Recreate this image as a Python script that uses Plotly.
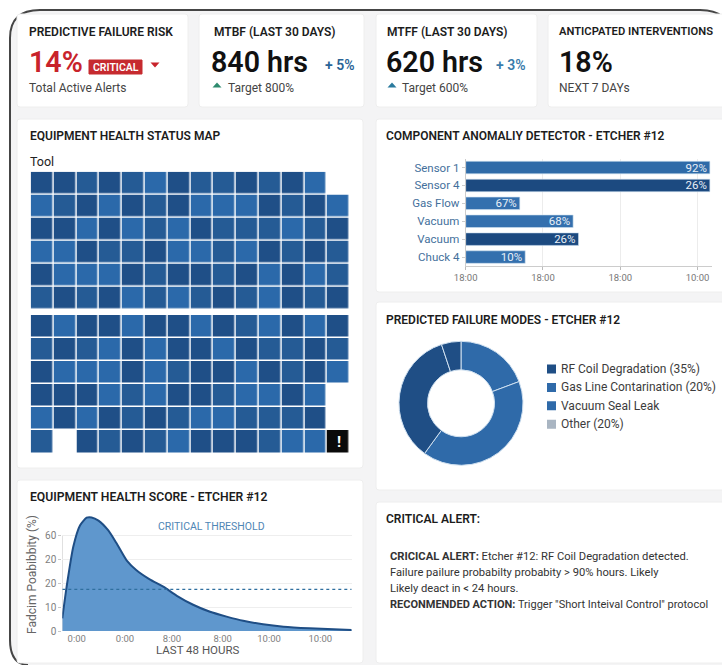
import plotly.graph_objects as go

W, H = 722, 665
N = None

# ---------- data ----------
heat_top = [
    [0, 0, 1, 0, 1, 2, 0, 1, 1, 0, 1, 0, 2, N],
    [2, 1, 0, 2, 0, 1, 0, 2, 2, 2, 0, 1, 0, 2],
    [0, 0, 2, 0, 2, 1, 2, 0, 1, 1, 1, 2, 1, 0],
    [2, 2, 0, 1, 1, 0, 2, 2, 1, 2, 0, 1, 0, 1],
    [0, 2, 2, 2, 0, 1, 0, 0, 1, 0, 2, 0, 2, 1],
    [1, 0, 1, 0, 2, 1, 2, 1, 0, 1, 2, 0, 1, 0],
]
heat_bottom = [
    [0, 2, 0, 0, 2, 0, 0, 2, 0, 1, 2, 0, 2, 0],
    [1, 0, 1, 2, 0, 2, 0, 0, 2, 0, 1, 1, 0, 1],
    [0, 2, 2, 2, 0, 2, 1, 0, 0, 2, 0, 1, 0, 2],
    [0, 0, 0, 2, 1, 2, 0, 0, 1, 2, 2, 0, 2, N],
    [2, 0, 2, 0, 1, 0, 1, 2, 2, 1, 1, 1, 0, N],
    [1, N, 0, 1, 0, 1, 2, 0, 0, 0, 1, 2, 2, 3],
]
bar_names = ["Sensor 1", "Sensor 4", "Gas Flow", "Vacuum", "Vacuum", "Chuck 4"]
bar_lengths = [3.16, 3.16, 0.70, 1.39, 1.46, 0.77]
bar_labels = ["92%", "26%", "67%", "68%", "26%", "10%"]
bar_tier = ["#2f6ba8", "#1c4a80", "#3470ae", "#3470ae", "#1c4a80", "#3470ae"]
bar_ticks = [0, 1, 2, 3]
bar_ticktext = ["18:00", "18:00", "18:00", "10:00"]

donut_labels = ["Gas Line Contarination", "Vacuum Seal Leak", "RF Coil Degradation", "Other"]
donut_values = [19.3, 40.7, 34.9, 5.1]
donut_colors = ["#2f6aa9", "#2f6aa9", "#1f4e85", "#1f4e85"]
legend_items = ["RF Coil Degradation (35%)", "Gas Line Contarination (20%)", "Vacuum Seal Leak", "Other (20%)"]
legend_colors = ["#1f4e85", "#2f6aa9", "#2f6aa9", "#a9b5c2"]

hours = [0, 0.72, 1.82, 2.93, 4.03, 4.86, 6, 7.6, 9, 10.7, 12.3, 14.5, 16.75, 19, 21.7, 24.5, 27.25, 30, 33.3, 36.7, 41, 48]
prob = [7.9, 27.7, 52.7, 66, 70.8, 71, 69, 63, 54.8, 44, 38, 32.3, 27.7, 22, 16.4, 12, 9, 6.4, 4.2, 2.7, 1.7, 0.6]
threshold = 26
area_xticks = [2.4, 10.4, 18.2, 26.6, 34.3, 42.8]
area_xtext = ["0:00", "0:00", "8:00", "8:00", "10:00", "10:00"]
area_yticks = [0, 15, 30, 45, 60]
area_ytext = ["0", "10", "20", "20", "60"]

# ---------- pixel helpers ----------
def X(px): return px / W
def Y(py): return 1 - py / H
def dx(a, b): return [X(a), X(b)]
def dy(top, bottom): return [Y(bottom), Y(top)]

FONT = "Roboto"
shapes, notes = [], []

def pth(d, fill=None, line=None, lw=0, layer="below"):
    shapes.append(dict(type="path", xref="paper", yref="paper", path=d, fillcolor=fill,
                       line=dict(color=line or "rgba(0,0,0,0)", width=lw), layer=layer))

def rrect(x0, y0, x1, y1, r=3, fill="#ffffff", line="#eeeeee", lw=1):
    a, b, c, d = X(x0), Y(y0), X(x1), Y(y1)
    rx, ry = r / W, r / H
    p = (f"M{a+rx},{b} L{c-rx},{b} Q{c},{b} {c},{b-ry} L{c},{d+ry} Q{c},{d} {c-rx},{d} "
         f"L{a+rx},{d} Q{a},{d} {a},{d+ry} L{a},{b-ry} Q{a},{b} {a+rx},{b} Z")
    pth(p, fill, line, lw)

def tri(cx, cy, w, h, color, down=False):
    s = 1 if down else -1
    pth(f"M{X(cx-w/2)},{Y(cy-s*h/2)} L{X(cx+w/2)},{Y(cy-s*h/2)} L{X(cx)},{Y(cy+s*h/2)} Z", color)

def txt(x, y, s, size=12, color="#222222", weight=400, anchor="left", angle=0):
    notes.append(dict(xref="paper", yref="paper", x=X(x), y=Y(y), text=s, showarrow=False,
                      xanchor=anchor, yanchor="middle", textangle=angle, align="left",
                      xshift=-2 if anchor == "left" else 0,
                      font=dict(family=FONT, size=size, color=color, weight=weight)))

# background + frame
shapes.append(dict(type="rect", xref="paper", yref="paper", x0=X(9), x1=1, y0=0, y1=Y(10),
                   fillcolor="#f4f4f5", line=dict(width=0), layer="below"))
pth(f"M{X(0)},{Y(0)} L{X(40)},{Y(0)} L{X(40)},{Y(10)} Q{X(10)},{Y(10)} {X(10)},{Y(38)} "
    f"L{X(10)},{Y(640)} Q{X(10)},{Y(664)} {X(28)},{Y(665)} L{X(0)},{Y(665)} Z", "#ffffff")
pth(f"M{X(722)},{Y(0)} L{X(700)},{Y(0)} L{X(700)},{Y(10)} Q{X(716)},{Y(10)} {X(722)},{Y(17)} Z", "#ffffff")
pth(f"M{X(28)},{Y(665)} Q{X(10)},{Y(664)} {X(10)},{Y(640)} L{X(10)},{Y(38)} Q{X(10)},{Y(10)} {X(40)},{Y(10)} "
    f"L{X(700)},{Y(10)} Q{X(716)},{Y(10)} {X(722)},{Y(17)}", None, "#454545", 2)

# cards
for c in [(17, 14, 188, 107), (199, 14, 364, 107), (376, 14, 537, 107), (548, 14, 730, 107),
          (17, 119, 363, 468), (376, 119, 730, 292), (376, 302, 730, 490), (376, 502, 730, 663),
          (17, 480, 363, 663)]:
    rrect(*c)

TITLE = dict(size=12, color="#1c1c1c", weight=600)
BIG = 28.6
# KPI cards
txt(29, 32, "PREDICTIVE FAILURE RISK", **TITLE)
txt(29, 62, "14%", size=BIG, color="#c8232b", weight=600)
rrect(89, 60, 142, 74, r=0, fill="#c62a2f", line="#c62a2f")
txt(115.5, 67, "CRITICAL", size=10.5, color="#ffffff", weight=600, anchor="center")
tri(155, 65, 9, 5, "#c8232b", down=True)
txt(29, 88, "Total Active Alerts", size=12, color="#444444")

txt(214, 32, "MTBF (LAST 30 DAYS)", **TITLE)
txt(211, 62, "840 hrs", size=BIG, color="#111111", weight=600)
txt(325, 65, "+ 5%", size=14, color="#2a6496", weight=600)
tri(217, 85, 9, 5, "#2e8b6e")
txt(228, 88, "Target 800%", size=12, color="#444444")

txt(387, 32, "MTFF (LAST 30 DAYS)", **TITLE)
txt(386, 62, "620 hrs", size=BIG, color="#111111", weight=600)
txt(496, 65, "+ 3%", size=14, color="#3a7cab", weight=600)
tri(392, 85, 9, 5, "#2a7a9e")
txt(402, 88, "Target 600%", size=12, color="#444444")

txt(559, 32, "ANTICPATED INTERVENTIONS", size=11.2, color="#1c1c1c", weight=600)
txt(559, 62, "18%", size=BIG, color="#111111", weight=600)
txt(559, 88, "NEXT 7 DAYs", size=12, color="#444444")

# panel titles
txt(30, 136, "EQUIPMENT HEALTH STATUS MAP", **TITLE)
txt(30, 162, "Tool", size=12.5, color="#222222")
txt(386, 136, "COMPONENT ANOMALIY DETECTOR - ETCHER #12", **TITLE)
txt(386, 320, "PREDICTED FAILURE MODES - ETCHER #12", **TITLE)
txt(30, 497, "EQUIPMENT HEALTH SCORE - ETCHER #12", size=12.2, color="#1c1c1c", weight=600)
txt(386, 519, "CRITICAL ALERT:", **TITLE)

# donut legend
for i, (name, col) in enumerate(zip(legend_items, legend_colors)):
    yy = 369 + i * 18.4
    rrect(547, yy - 4.5, 556, yy + 4.5, r=0, fill=col, line=col, lw=0)
    txt(561, yy, name, size=12, color="#3c3c3c")

# alert
alert_lines = [
    "<b>CRICICAL ALERT:</b> Etcher #12: RF Coil Degradation detected.",
    "Failure pailure probabilty probabity &gt; 90% hours. Likely",
    "Likely deact in &lt; 24 hours.",
    "<b>RECONMENDED ACTION:</b> Trigger \"Short Inteival Control\" protocol",
]
for yy, s, fs in zip([556, 572, 588.5, 604], alert_lines, [11.2, 11.2, 11.2, 11]):
    txt(390, yy, s, size=fs, color="#333333")

# area chart labels
txt(158, 526, "CRITICAL THRESHOLD", size=10.5, color="#4f86b5")
txt(198, 650, "LAST 48 HOURS", size=11.5, color="#555555", anchor="center")
txt(32, 575, "Fadcim Poabibbity (%)", size=12, color="#666666", anchor="center", angle=-90)

# left axis rule of the area chart stops at the top tick
shapes.append(dict(type="line", xref="x4", yref="y4", x0=0, x1=0, y0=0, y1=area_yticks[-1],
                   line=dict(color="#c8c8c8", width=1), layer="below"))

fig = go.Figure()

# heatmap
SCALE = [[0, "#1f4f87"], [0.25, "#1f4f87"], [0.25, "#255b95"], [0.5, "#255b95"],
         [0.5, "#2b69aa"], [0.75, "#2b69aa"], [0.75, "#0a0a0a"], [1, "#0a0a0a"]]
for grid, xa, ya in [(heat_top, "x", "y"), (heat_bottom, "x2", "y2")]:
    fig.add_trace(go.Heatmap(z=grid, xaxis=xa, yaxis=ya, colorscale=SCALE, zmin=0, zmax=4,
                             xgap=1.5, ygap=1.5, showscale=False, hoverongaps=False))
notes.append(dict(xref="x2", yref="y2", x=13, y=5, text="!", showarrow=False,
                  font=dict(family=FONT, size=15, color="#ffffff", weight=700)))

# bars
bar_pos = list(range(len(bar_names)))
fig.add_trace(go.Bar(x=bar_lengths, y=bar_pos, orientation="h", xaxis="x3", yaxis="y3",
                     marker=dict(color=bar_tier, line=dict(color="#cfe0f0", width=0.6)),
                     text=bar_labels, textposition="inside", insidetextanchor="end",
                     textangle=0, constraintext="none",
                     textfont=dict(family=FONT, size=11.5, color="#e8eff7"), width=0.7))

# donut
cx, cy, R = 461, 403.3, 62
fig.add_trace(go.Pie(labels=donut_labels, values=donut_values, hole=0.54, sort=False,
                     direction="clockwise", rotation=0, textinfo="none",
                     domain=dict(x=dx(cx - R, cx + R), y=dy(cy - R, cy + R)),
                     marker=dict(colors=donut_colors, line=dict(color="#cfe0f0", width=1))))

# area
fig.add_trace(go.Scatter(x=hours, y=prob, xaxis="x4", yaxis="y4", mode="lines", fill="tozeroy",
                         fillcolor="#5f97cd",
                         line=dict(color="#1f4e85", width=2, shape="spline", smoothing=0.6)))
fig.add_trace(go.Scatter(x=[0, 48], y=[threshold, threshold], xaxis="x4", yaxis="y4", mode="lines",
                         line=dict(color="#2f6f9f", width=1.2, dash="dot")))

HIDE = dict(visible=False, fixedrange=True, automargin=False)
fig.update_layout(
    template="none",
    width=W, height=H, margin=dict(l=0, r=0, t=0, b=0, pad=0), autosize=False,
    paper_bgcolor="#ffffff", plot_bgcolor="rgba(0,0,0,0)", showlegend=False, bargap=0.3,
    font=dict(family=FONT), shapes=shapes, annotations=notes,
    xaxis=dict(domain=dx(30.7, 350), anchor="y", range=[-0.5, 13.5], **HIDE),
    yaxis=dict(domain=dy(171.7, 309.5), anchor="x", range=[5.5, -0.5], **HIDE),
    xaxis2=dict(domain=dx(30.7, 350), anchor="y2", range=[-0.5, 13.5], **HIDE),
    yaxis2=dict(domain=dy(315, 453.5), anchor="x2", range=[5.5, -0.5], **HIDE),
    xaxis3=dict(domain=dx(465.7, 712), anchor="y3", range=[0, 246.3 / 77.27], automargin=False,
                tickvals=bar_ticks, ticktext=bar_ticktext, showgrid=True, gridcolor="#ececec",
                zeroline=False, showline=True, linecolor="#cccccc", ticks="outside", ticklen=3,
                tickcolor="#bbbbbb", tickfont=dict(family=FONT, size=9.5, color="#777777")),
    yaxis3=dict(domain=dy(158.6, 266), anchor="x3", range=[5.5, -0.5], tickvals=bar_pos, automargin=False,
                ticktext=bar_names, showgrid=False, zeroline=False, showline=True, linecolor="#cccccc",
                ticks="outside", ticklen=3, tickcolor="#cccccc",
                tickfont=dict(family=FONT, size=11.5, color="#44709c")),
    xaxis4=dict(domain=dx(62.3, 351.7), anchor="y4", range=[0, 48], tickvals=area_xticks, automargin=False,
                ticktext=area_xtext, showgrid=False, zeroline=False, showline=False, ticks="",
                tickfont=dict(family=FONT, size=9.5, color="#808080")),
    yaxis4=dict(domain=dy(512, 631), anchor="x4", range=[0, 74.375], tickvals=area_yticks, automargin=False,
                ticktext=area_ytext, showgrid=True, gridcolor="#eeeeee", zeroline=False,
                showline=False, ticks="outside", ticklen=3, tickcolor="#c8c8c8",
                tickfont=dict(family=FONT, size=10, color="#808080")),
)

fig.write_html("out.html", config=dict(displayModeBar=False),
               post_script="document.body.style.margin='0';document.body.style.overflow='hidden';")
